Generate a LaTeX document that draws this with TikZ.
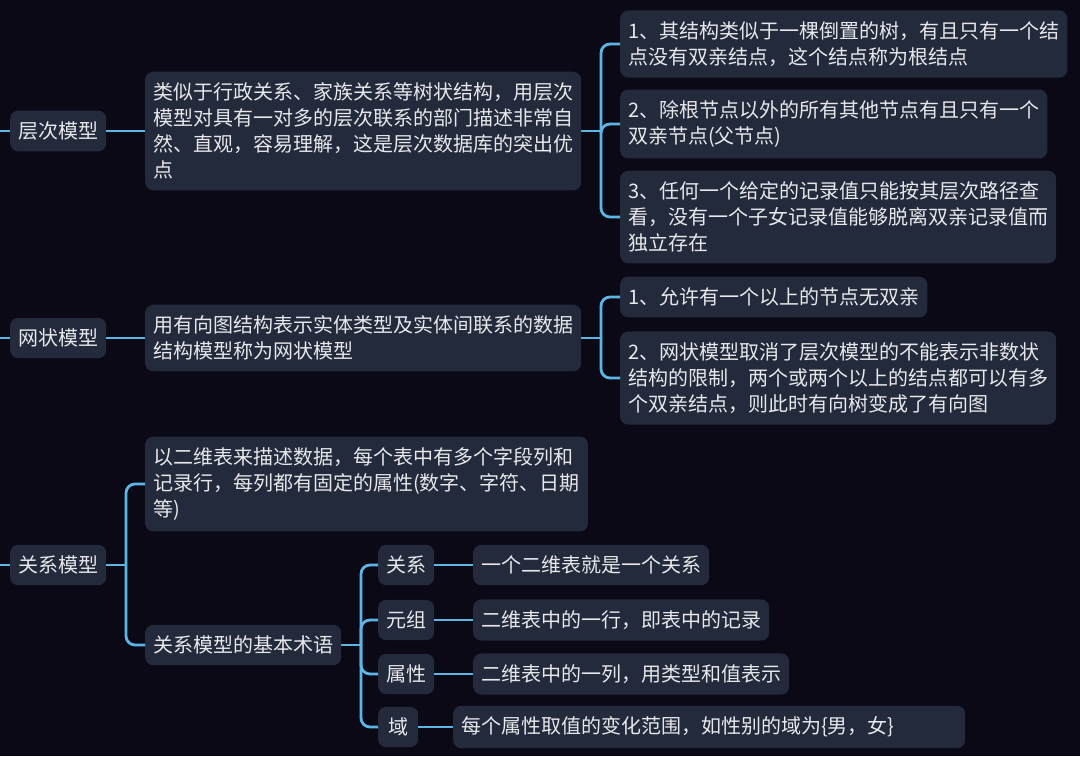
\documentclass[tikz,border=0pt]{standalone}
\usepackage{fontspec}
\setmainfont{Noto Sans CJK SC}
\definecolor{bgdark}{HTML}{0B0916}
\definecolor{boxfill}{HTML}{222A3B}
\definecolor{linkblue}{HTML}{5BB6E6}
\definecolor{txtwhite}{HTML}{E8E8EC}
\tikzset{
  topic/.style={fill=boxfill, rounded corners=8pt, text=txtwhite, inner xsep=8pt,
    inner ysep=11pt, align=left, anchor=west, font=\fontsize{20}{26}\selectfont},
  link/.style={draw=linkblue, line width=2.8pt, rounded corners=9pt},
}
\begin{document}
\begin{tikzpicture}[x=1pt,y=-1pt]
    \fill[bgdark] (0,0) rectangle (1080,756);
    \useasboundingbox (0,0) rectangle (1080,756);

    % 层次模型
    \coordinate (in1) at (0,131);
    \node[topic] (hier) at (10,131) {层次模型};
    \node[topic] (hierdesc) at (145,131) {类似于行政关系、家族关系等树状结构，用层次\\模型对具有一对多的层次联系的部门描述非常自\\然、直观，容易理解，这是层次数据库的突出优\\点};
    \node[topic] (hierA) at (620,44) {1、其结构类似于一棵倒置的树，有且只有一个结\\点没有双亲结点，这个结点称为根结点};
    \node[topic] (hierB) at (620,124) {2、除根节点以外的所有其他节点有且只有一个\\双亲节点(父节点)};
    \node[topic] (hierC) at (620,217) {3、任何一个给定的记录值只能按其层次路径查\\看，没有一个子女记录值能够脱离双亲记录值而\\独立存在};
    \coordinate (jh) at (601,131);
    \draw[link] (in1) -- (hier.west);
    \draw[link] (hier.east) -- (hierdesc.west);
    \draw[link] (hierdesc.east) -- (jh);
    \foreach \c in {hierA,hierB,hierC}
        \draw[link] (jh) |- (\c.west);

    % 网状模型
    \coordinate (in2) at (0,338);
    \node[topic] (net) at (10,338) {网状模型};
    \node[topic] (netdesc) at (145,338) {用有向图结构表示实体类型及实体间联系的数据\\结构模型称为网状模型};
    \node[topic] (netA) at (620,297) {1、允许有一个以上的节点无双亲};
    \node[topic] (netB) at (620,378) {2、网状模型取消了层次模型的不能表示非数状\\结构的限制，两个或两个以上的结点都可以有多\\个双亲结点，则此时有向树变成了有向图};
    \coordinate (jn) at (601,338);
    \draw[link] (in2) -- (net.west);
    \draw[link] (net.east) -- (netdesc.west);
    \draw[link] (netdesc.east) -- (jn);
    \foreach \c in {netA,netB}
        \draw[link] (jn) |- (\c.west);

    % 关系模型
    \coordinate (in3) at (0,565);
    \node[topic] (rel) at (10,565) {关系模型};
    \node[topic] (reldesc) at (145,484) {以二维表来描述数据，每个表中有多个字段列和\\记录行，每列都有固定的属性(数字、字符、日期\\等)};
    \node[topic] (relterm) at (145,645) {关系模型的基本术语};
    \coordinate (jr) at (126,565);
    \draw[link] (in3) -- (rel.west);
    \draw[link] (rel.east) -- (jr);
    \foreach \c in {reldesc,relterm}
        \draw[link] (jr) |- (\c.west);

    % 基本术语
    \node[topic] (tRel) at (378,565) {关系};
    \node[topic] (tTup) at (378,620) {元组};
    \node[topic] (tAtt) at (378,674) {属性};
    \node[topic, inner xsep=10pt] (tDom) at (378,727) {域};
    \node[topic] (vRel) at (473,565) {一个二维表就是一个关系};
    \node[topic] (vTup) at (473,620) {二维表中的一行，即表中的记录};
    \node[topic] (vAtt) at (473,674) {二维表中的一列，用类型和值表示};
    \node[topic, text width=496pt] (vDom) at (453,727) {每个属性取值的变化范围，如性别的域为\{男，女\}};
    \coordinate (jt) at (361,645);
    \draw[link] (relterm.east) -- (jt);
    \foreach \c in {tRel,tTup,tAtt,tDom}
        \draw[link] (jt) |- (\c.west);
    \draw[link] (tRel.east) -- (vRel.west);
    \draw[link] (tTup.east) -- (vTup.west);
    \draw[link] (tAtt.east) -- (vAtt.west);
    \draw[link] (tDom.east) -- (vDom.west);
\end{tikzpicture}
\end{document}
